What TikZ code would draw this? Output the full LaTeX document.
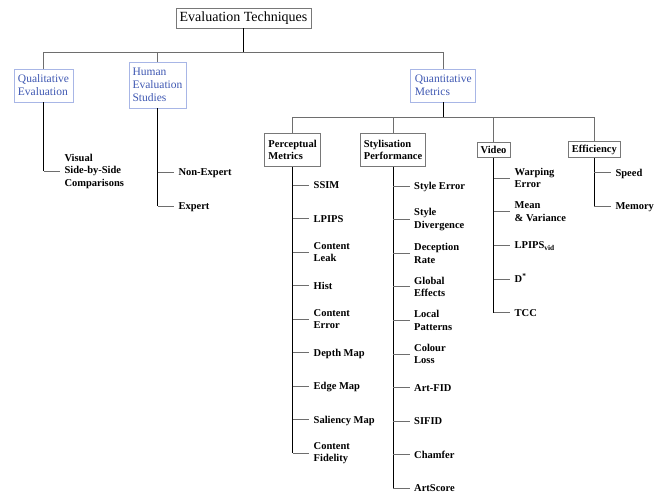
\documentclass[tikz,border=0pt]{standalone}
\usepackage{fontspec}
\setmainfont{Liberation Serif}
\definecolor{catblue}{RGB}{63,88,178}
\definecolor{catborder}{RGB}{168,182,230}
\definecolor{boxborder}{RGB}{120,120,120}
\definecolor{linegray}{RGB}{110,110,110}
\tikzset{
 rootbox/.style={draw=boxborder, line width=0.8pt, inner sep=0pt, minimum width=135pt, minimum height=20pt, font=\fontsize{14}{16}\selectfont},
 catbox/.style={draw=catborder, line width=0.8pt, text=catblue, inner sep=0pt, align=left, font=\fontsize{11.5}{13}\selectfont},
 subbox/.style={draw=boxborder, line width=0.8pt, inner sep=0pt, align=left, font=\bfseries\fontsize{10.5}{12.5}\selectfont},
 leaf/.style={anchor=west, inner xsep=4.5pt, inner ysep=1pt, text height=7pt, text depth=0pt, font=\bfseries\fontsize{10.5}{12.5}\selectfont},
 leafm/.style={anchor=west, inner xsep=4.5pt, inner ysep=1pt, align=left, font=\bfseries\fontsize{10.5}{12.5}\selectfont},
 trunk/.style={draw=black, line width=0.8pt},
 branch/.style={draw=linegray, line width=0.8pt},
}
\begin{document}
\begin{tikzpicture}[x=1pt,y=-1pt]
\useasboundingbox (0,0) rectangle (666,498);
% top level
\node[rootbox] (root) at (243.5,18) {Evaluation Techniques};
\node[catbox, minimum width=59pt, minimum height=33pt] (qual) at (43.5,85.5) {Qualitative\\Evaluation};
\node[catbox, minimum width=57pt, minimum height=46pt] (human) at (157.5,85) {Human\\Evaluation\\Studies};
\node[catbox, minimum width=65pt, minimum height=33pt] (quant) at (443.3,85.5) {Quantitative\\Metrics};
\coordinate (j1) at (243.5,52.3);
\draw[trunk] (root.south) -- (j1);
\draw[branch] (j1) -| (qual.north);
\draw[branch] (j1) -| (human.north);
\draw[branch] (j1) -| (quant.north);
% quantitative children
\node[subbox, minimum width=56pt, minimum height=33pt] (perc) at (292.6,149.7) {Perceptual\\Metrics};
\node[subbox, minimum width=65pt, minimum height=33pt] (styl) at (393,149.7) {Stylisation\\Performance};
\node[subbox, minimum width=33pt, minimum height=15pt] (video) at (493.5,149.7) {Video};
\node[subbox, minimum width=52pt, minimum height=16pt] (eff) at (594.3,149.7) {Efficiency};
\coordinate (j2) at (443.3,117.3);
\draw[trunk] (quant.south) -- (j2);
\draw[branch] (j2) -| (perc.north);
\draw[branch] (j2) -| (styl.north);
\draw[branch] (j2) -| (video.north);
\draw[branch] (j2) -| (eff.north);
% qualitative leaves
\node[leafm] (vis) at (59.8,171) {Visual\\Side-by-Side\\Comparisons};
\draw[trunk] (qual.south) -- (qual.south |- vis.west);
\draw[branch] (qual.south |- vis.west) -- (vis.west);
% human leaves
\node[leaf] (nonexp) at (173.8,172.3) {Non-Expert};
\node[leaf] (exp) at (173.8,206) {Expert};
\draw[trunk] (human.south) -- (human.south |- exp.west);
\foreach \n in {nonexp,exp} \draw[branch] (human.south |- \n.west) -- (\n.west);
% perceptual leaves
\node[leaf] (ssim) at (309,185.3) {SSIM};
\node[leaf] (lpips) at (309,218.8) {LPIPS};
\node[leafm] (cleak) at (309,252.3) {Content\\Leak};
\node[leaf] (hist) at (309,285.8) {Hist};
\node[leafm] (cerr) at (309,319.3) {Content\\Error};
\node[leaf] (depth) at (309,352.8) {Depth Map};
\node[leaf] (edge) at (309,386.3) {Edge Map};
\node[leaf] (sal) at (309,419.8) {Saliency Map};
\node[leafm] (cfid) at (309,453.3) {Content\\Fidelity};
\draw[trunk] (perc.south) -- (perc.south |- cfid.west);
\foreach \n in {ssim,lpips,cleak,hist,cerr,depth,edge,sal,cfid}
  \draw[branch] (perc.south |- \n.west) -- (\n.west);
% stylisation leaves
\node[leaf] (serr) at (409.5,186) {Style Error};
\node[leafm] (sdiv) at (409.5,219.6) {Style\\Divergence};
\node[leafm] (drate) at (409.5,253.2) {Deception\\Rate};
\node[leafm] (geff) at (409.5,286.8) {Global\\Effects};
\node[leafm] (lpat) at (409.5,320.4) {Local\\Patterns};
\node[leafm] (closs) at (409.5,354) {Colour\\Loss};
\node[leaf] (afid) at (409.5,387.6) {Art-FID};
\node[leaf] (sifid) at (409.5,421.2) {SIFID};
\node[leaf] (cham) at (409.5,454.8) {Chamfer};
\node[leaf] (ascore) at (409.5,488.4) {ArtScore};
\draw[trunk] (styl.south) -- (styl.south |- ascore.west);
\foreach \n in {serr,sdiv,drate,geff,lpat,closs,afid,sifid,cham,ascore}
  \draw[branch] (styl.south |- \n.west) -- (\n.west);
% video leaves
\node[leafm] (warp) at (510,178) {Warping\\Error};
\node[leafm] (mean) at (510,211.7) {Mean\\\& Variance};
\node[leaf] (lpv) at (510,245.4) {LPIPS\textsubscript{vid}};
\node[leaf] (dstar) at (510,279.1) {D\textsuperscript{*}};
\node[leaf] (tcc) at (510,312.8) {TCC};
\draw[trunk] (video.south) -- (video.south |- tcc.west);
\foreach \n in {warp,mean,lpv,dstar,tcc}
  \draw[branch] (video.south |- \n.west) -- (\n.west);
% efficiency leaves
\node[leaf] (speed) at (610.8,172.5) {Speed};
\node[leaf] (mem) at (610.8,206) {Memory};
\draw[trunk] (eff.south) -- (eff.south |- mem.west);
\foreach \n in {speed,mem}
  \draw[branch] (eff.south |- \n.west) -- (\n.west);
\end{tikzpicture}
\end{document}
